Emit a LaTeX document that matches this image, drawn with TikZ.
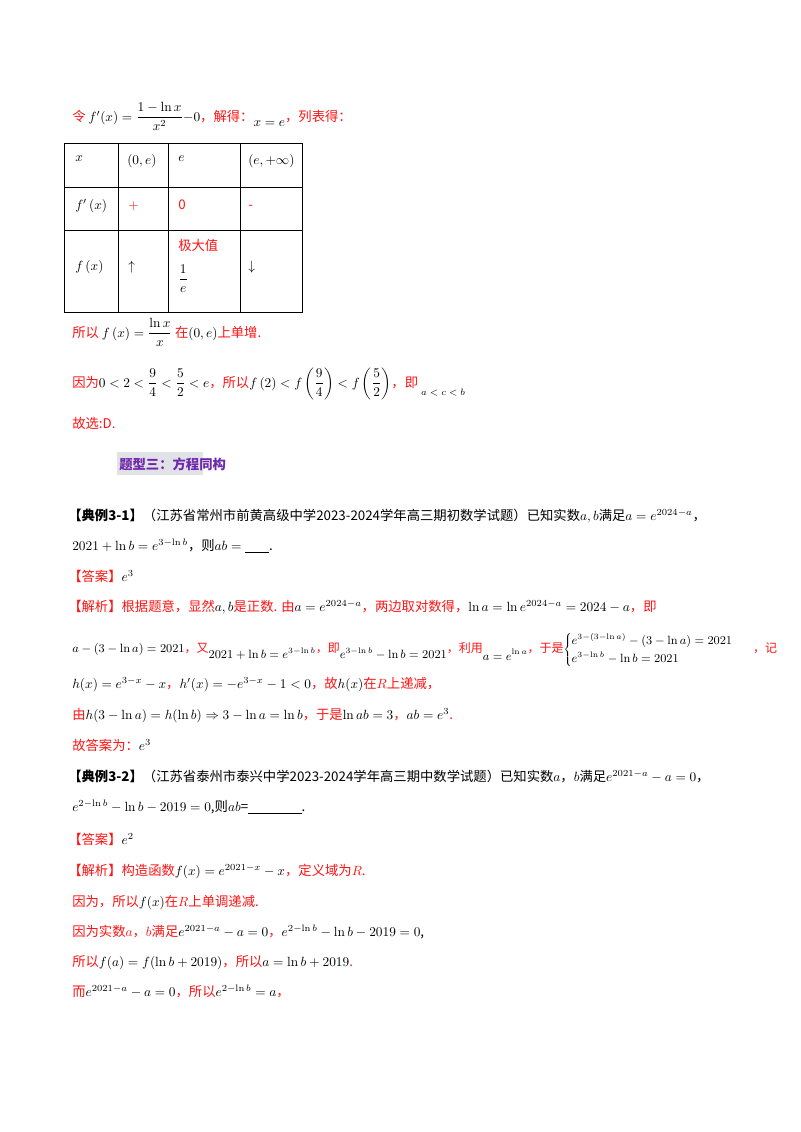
\documentclass[tikz,border=0pt]{standalone}
\usepackage[no-math]{fontspec}
\usepackage{amsmath}
\setmainfont{Noto Sans CJK SC}
\definecolor{rd}{RGB}{255,20,20}
\definecolor{hd}{RGB}{110,40,170}
\definecolor{hbg}{RGB}{225,225,232}
\newcommand{\bk}[1]{\textcolor{black}{#1}}
\tikzset{ln/.style={anchor=base west,inner sep=0pt,font=\fontsize{10}{12}\selectfont},
 r/.style={ln,text=rd},
 cell/.style={anchor=base west,inner sep=0pt,font=\fontsize{10}{12}\selectfont}}
\begin{document}
\begin{tikzpicture}[x=0.75pt,y=-0.75pt]
\useasboundingbox (0,0) rectangle (800,1132);
\fill[white] (0,0) rectangle (800,1132);
% line 1
\node[r] (l1) at (72,121) {令 \bk{$f'(x)=\dfrac{1-\ln x}{x^2}{-}0$}，解得：\raisebox{-4pt}{\bk{$x=e$}}，列表得：};
% table
\draw[line width=0.7pt] (64,143) rectangle (302,312);
\foreach \x in {118,168,240} \draw[line width=0.7pt] (\x,143) -- (\x,312);
\foreach \y in {187,230} \draw[line width=0.7pt] (64,\y) -- (302,\y);
\node[cell] (c11) at (75,161) {$x$};
\node[cell] (c12) at (127,164) {$\left(0,e\right)$};
\node[cell] (c13) at (178,161) {$e$};
\node[cell] (c14) at (248,164) {$\left(e,+\infty\right)$};
\node[cell] (c21) at (75,209) {$f'\left(x\right)$};
\node[cell,text=rd] (c22) at (128,209) {$+$};
\node[cell,text=rd] (c23) at (178,209) {0};
\node[cell,text=rd] (c24) at (248,209) {-};
\node[cell,text=rd] (c33) at (178,250) {极大值};
\node[cell] (c31) at (75,270) {$f\left(x\right)$};
\node[cell] (c32) at (128,270) {$\uparrow$};
\node[cell] (c34) at (248,270) {$\downarrow$};
\node[cell] (c35) at (178,283) {$\dfrac{1}{e}$};
% lines
\node[r] (l2) at (72,337) {所以 \bk{$f\left(x\right)=\dfrac{\ln x}{x}$} 在\bk{$\left(0,e\right)$}上单增.};
\node[r] (l3) at (72,387) {因为\bk{$0<2<\dfrac94<\dfrac52<e$}，所以\bk{$f\left(2\right)<f\left(\dfrac94\right)<f\left(\dfrac52\right)$}，即 \raisebox{-6pt}{\bk{\scriptsize$a<c<b$}}};
\node[r] (l4) at (72,428) {故选:D.};
% heading
\fill[hbg] (117,452) rectangle (203,475);
\node[ln,font=\fontsize{10}{12}\selectfont\bfseries,text=hd] (h) at (119,469) {题型三：方程同构};
% example 3-1
\node[ln] (e1) at (68,520) {\textbf{【典例3-1】}（江苏省常州市前黄高级中学2023-2024学年高三期初数学试题）已知实数$a,b$满足$a=e^{2024-a}$，};
\node[ln] (e2) at (72,550) {$2021+\ln b=e^{3-\ln b}$，则$ab=\underline{\hspace{1.8em}}$.};
\node[r] (e3) at (68,581) {【答案】\bk{$e^3$}};
\node[r] (e4) at (68,611) {【解析】根据题意，显然\bk{$a,b$}是正数. 由\bk{$a=e^{2024-a}$}，两边取对数得，\bk{$\ln a=\ln e^{2024-a}=2024-a$}，即};
\node[r,font=\fontsize{9}{11}\selectfont] (e5) at (72,652) {\bk{$a-(3-\ln a)=2021$}，又\raisebox{-5pt}{\bk{$2021+\ln b=e^{3-\ln b}$}}，即\raisebox{-5pt}{\bk{$e^{3-\ln b}-\ln b=2021$}}，利用\raisebox{-6pt}{\bk{$a=e^{\ln a}$}}，于是\bk{$\scriptstyle\begin{cases}e^{3-(3-\ln a)}-(3-\ln a)=2021\\ e^{3-\ln b}-\ln b=2021\end{cases}$}\hspace{0.6em}，记};
\node[r] (e6) at (72,688) {\bk{$h(x)=e^{3-x}-x$}，\bk{$h'(x)=-e^{3-x}-1<0$}，故\bk{$h(x)$}在$R$上递减，};
\node[r] (e7) at (72,719) {由\bk{$h(3-\ln a)=h(\ln b)\Rightarrow3-\ln a=\ln b$}，于是\bk{$\ln ab=3$}，\bk{$ab=e^3$}.};
\node[r] (e8) at (72,750) {故答案为：\bk{$e^3$}};
% example 3-2
\node[ln] (f1) at (68,781) {\textbf{【典例3-2】}（江苏省泰州市泰兴中学2023-2024学年高三期中数学试题）已知实数$a$，$b$满足$e^{2021-a}-a=0$，};
\node[ln] (f2) at (72,811) {$e^{2-\ln b}-\ln b-2019=0$,则$ab$=\underline{\hspace{4em}}.};
\node[r] (f3) at (68,844) {【答案】\bk{$e^2$}};
\node[r] (f4) at (68,875) {【解析】构造函数\bk{$f(x)=e^{2021-x}-x$}，定义域为$R$.};
\node[r] (f5) at (72,906) {因为，所以\bk{$f(x)$}在$R$上单调递减.};
\node[r] (f6) at (72,936) {因为实数$a$，$b$满足\bk{$e^{2021-a}-a=0$}，\bk{$e^{2-\ln b}-\ln b-2019=0$,}};
\node[r] (f7) at (72,966) {所以\bk{$f(a)=f(\ln b+2019)$}，所以\bk{$a=\ln b+2019$}.};
\node[r] (f8) at (72,996) {而\bk{$e^{2021-a}-a=0$}，所以\bk{$e^{2-\ln b}=a$}，};
\end{tikzpicture}
\end{document}
